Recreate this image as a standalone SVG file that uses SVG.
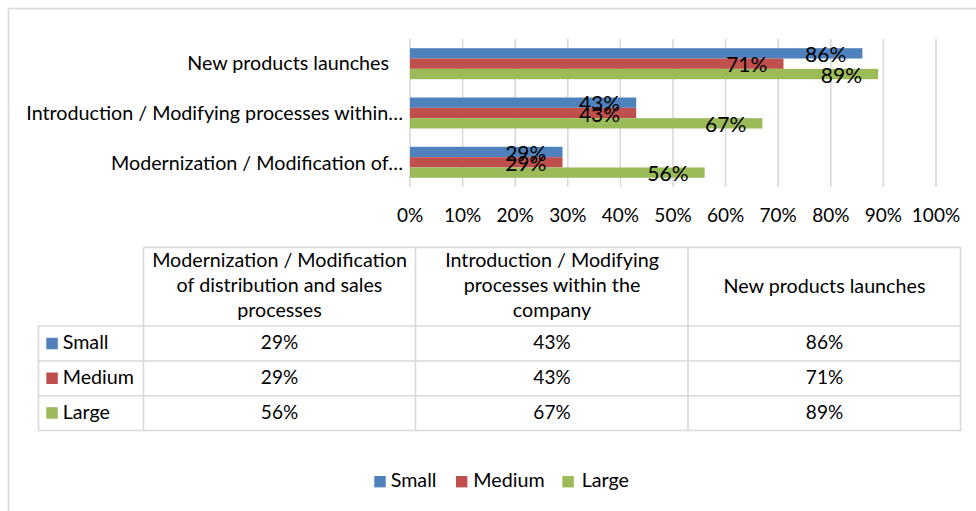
<svg xmlns="http://www.w3.org/2000/svg" width="976" height="511" viewBox="0 0 976 511">
<style>
text{font-family:Lato,"Liberation Sans",sans-serif;fill:#000}
.t{font-size:19px}
.w{font-size:19.7px}
.c{text-anchor:middle}
.e{text-anchor:end}
.dl{font-size:21px;text-anchor:middle}
.g{stroke:#d9d9d9;stroke-width:1.6;fill:none}
.s{fill:#4f81bd}.m{fill:#c0504d}.l{fill:#9bbb59}
</style>
<rect width="976" height="511" fill="#fff"/>
<rect id="chart-border" x="8.5" y="8.5" width="990" height="520" class="g"/>
<g id="gridlines" class="g">
<line x1="410" y1="39" x2="410" y2="187"/>
<line x1="462.6" y1="39" x2="462.6" y2="187"/>
<line x1="515.2" y1="39" x2="515.2" y2="187"/>
<line x1="567.8" y1="39" x2="567.8" y2="187"/>
<line x1="620.4" y1="39" x2="620.4" y2="187"/>
<line x1="673" y1="39" x2="673" y2="187"/>
<line x1="725.6" y1="39" x2="725.6" y2="187"/>
<line x1="778.2" y1="39" x2="778.2" y2="187"/>
<line x1="830.8" y1="39" x2="830.8" y2="187"/>
<line x1="883.4" y1="39" x2="883.4" y2="187"/>
<line x1="936" y1="39" x2="936" y2="187"/>
</g>
<g id="category-labels" class="w e">
<text x="389" y="70">New products launches</text>
<text x="403" y="120.3">Introduction / Modifying processes within…</text>
<text x="403" y="170">Modernization / Modification of…</text>
</g>
<g id="bars">
<rect class="s" x="410" y="48.2" width="452.4" height="10.33"/>
<rect class="m" x="410" y="58.53" width="373.5" height="10.33"/>
<rect class="l" x="410" y="68.86" width="468.1" height="10.33"/>
<rect class="s" x="410" y="97.5" width="226.2" height="10.33"/>
<rect class="m" x="410" y="107.83" width="226.2" height="10.33"/>
<rect class="l" x="410" y="118.16" width="352.4" height="10.33"/>
<rect class="s" x="410" y="146.8" width="152.5" height="10.33"/>
<rect class="m" x="410" y="157.13" width="152.5" height="10.33"/>
<rect class="l" x="410" y="167.46" width="294.6" height="10.33"/>
</g>
<g id="data-labels" class="dl">
<text x="825.7" y="61.9">86%</text>
<text x="746.8" y="72.2">71%</text>
<text x="841.4" y="82.5">89%</text>
<text x="599.5" y="111.2">43%</text>
<text x="599.5" y="121.5">43%</text>
<text x="725.7" y="131.8">67%</text>
<text x="525.8" y="160.5">29%</text>
<text x="525.8" y="170.8">29%</text>
<text x="667.9" y="181.1">56%</text>
</g>
<g id="axis-labels" class="t c">
<text x="410" y="222.3">0%</text>
<text x="462.6" y="222.3">10%</text>
<text x="515.2" y="222.3">20%</text>
<text x="567.8" y="222.3">30%</text>
<text x="620.4" y="222.3">40%</text>
<text x="673" y="222.3">50%</text>
<text x="725.6" y="222.3">60%</text>
<text x="778.2" y="222.3">70%</text>
<text x="830.8" y="222.3">80%</text>
<text x="883.4" y="222.3">90%</text>
<text x="936" y="222.3">100%</text>
</g>
<g id="data-table">
<g class="g">
<path d="M143.5 247.5H960.5V430.5H38.5V326H960.5M38.5 361H960.5M38.5 395.7H960.5M143.5 247.5V430.5M415.5 247.5V430.5M688 247.5V430.5"/>
</g>
<g class="w c">
<text x="279.5" y="267.3">Modernization / Modification</text>
<text x="279.5" y="292.3">of distribution and sales</text>
<text x="279.5" y="317.3">processes</text>
<text x="552" y="267.3">Introduction / Modifying</text>
<text x="552" y="292.3">processes within the</text>
<text x="552" y="317.3">company</text>
<text x="824.5" y="293">New products launches</text>
</g>
<g class="t c">
<text x="279.5" y="349.3">29%</text>
<text x="552" y="349.3">43%</text>
<text x="824.5" y="349.3">86%</text>
<text x="279.5" y="384">29%</text>
<text x="552" y="384">43%</text>
<text x="824.5" y="384">71%</text>
<text x="279.5" y="418.7">56%</text>
<text x="552" y="418.7">67%</text>
<text x="824.5" y="418.7">89%</text>
</g>
<rect class="s" x="46.3" y="337.8" width="11.5" height="11.5"/>
<rect class="m" x="46.3" y="372.5" width="11.5" height="11.5"/>
<rect class="l" x="46.3" y="407.2" width="11.5" height="11.5"/>
<g class="w">
<text x="62.7" y="349.3">Small</text>
<text x="62.7" y="384">Medium</text>
<text x="62.7" y="418.7">Large</text>
</g>
</g>
<g id="legend">
<rect class="s" x="374.3" y="476" width="11.4" height="11.4"/>
<rect class="m" x="456" y="476" width="11.4" height="11.4"/>
<rect class="l" x="562.4" y="476" width="11.4" height="11.4"/>
<g class="w">
<text x="390.7" y="487.3">Small</text>
<text x="473.3" y="487.3">Medium</text>
<text x="581.7" y="487.3">Large</text>
</g>
</g>
</svg>
